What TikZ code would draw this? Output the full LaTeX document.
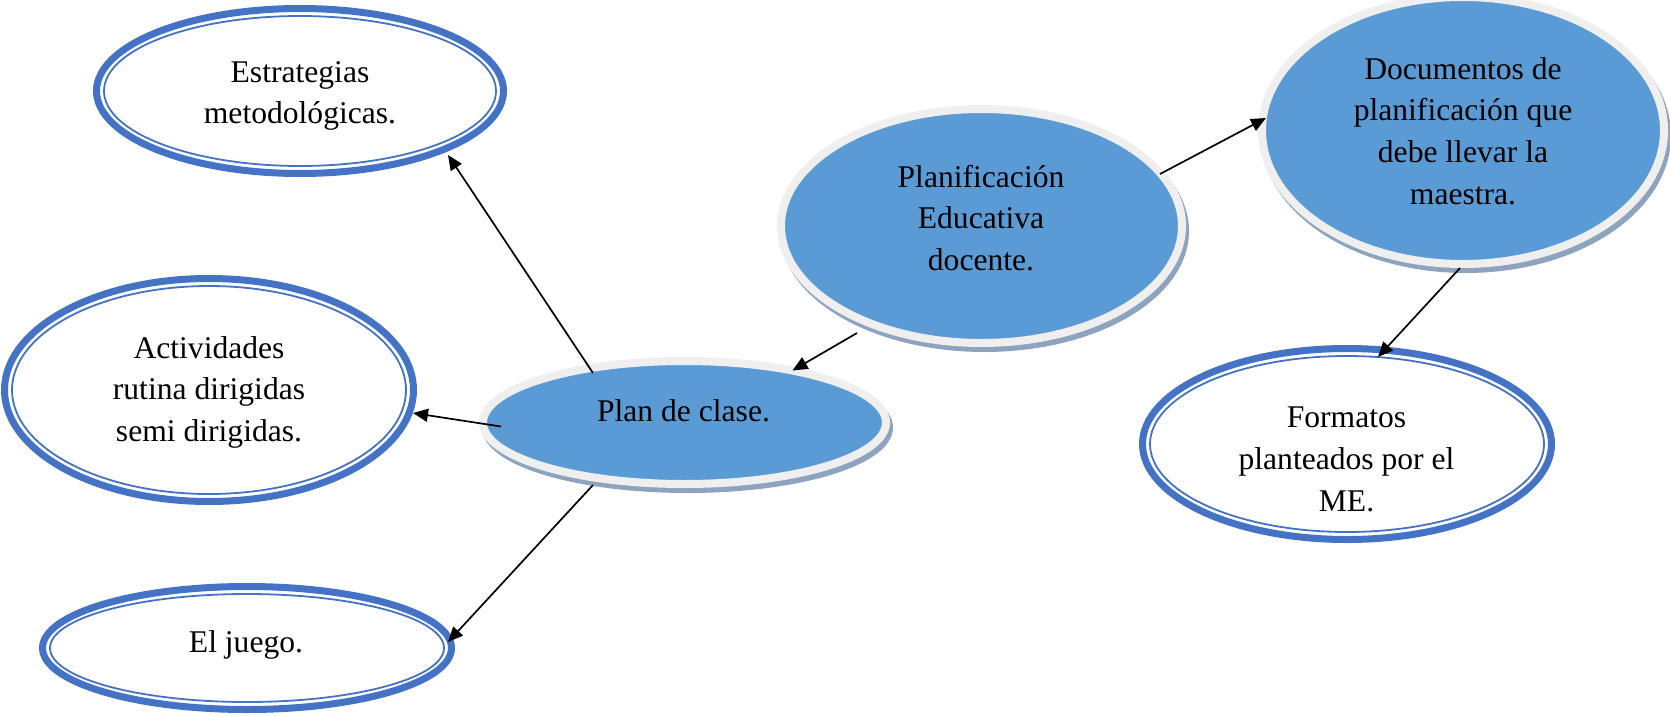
\documentclass[tikz,border=0pt]{standalone}
\usepackage{fontspec}
\setmainfont[Ligatures=NoCommon]{Liberation Serif}
\usetikzlibrary{shapes.geometric,arrows.meta,calc}
\definecolor{ringblue}{HTML}{4472C4}
\definecolor{fillblue}{HTML}{5B9BD5}
\definecolor{ringgray}{HTML}{EFEFEF}
\definecolor{shadowblue}{HTML}{8EA3BD}
\begin{document}
\begin{tikzpicture}[x=1pt,y=-1pt,
  whiteell/.style={ellipse, draw=ringblue, line width=7pt, fill=white, inner sep=0pt},
  innerring/.style={draw=ringblue, line width=1.8pt},
  blueell/.style={ellipse, draw=ringgray, line width=8pt, fill=fillblue, inner sep=0pt,
    preaction={draw=shadowblue, fill=shadowblue, line width=8pt,
      transform canvas={shift={(3pt,-5pt)}}}},
  txt/.style={align=center, font=\fontsize{31.6}{41.7}\selectfont, inner sep=0pt, text=black},
  conn/.style={-{Triangle[length=15pt,width=13pt]}, line width=1.7pt, draw=black}]
\useasboundingbox (0,0) rectangle (1670,715);

% white (double-ring) ellipses
\node[whiteell, minimum width=407pt, minimum height=165pt] (estr) at (300,91) {};
\draw[innerring] (estr.center) ellipse [x radius=196, y radius=75];
\node[whiteell, minimum width=409pt, minimum height=223pt] (activ) at (209,390) {};
\draw[innerring] (activ.center) ellipse [x radius=197, y radius=104];
\node[whiteell, minimum width=409pt, minimum height=123pt] (juego) at (247,648) {};
\draw[innerring] (juego.center) ellipse [x radius=197, y radius=54];
\node[whiteell, minimum width=409pt, minimum height=191pt] (form) at (1347,444) {};
\draw[innerring] (form.center) ellipse [x radius=197, y radius=88];

% blue ellipses
\node[blueell, minimum width=403pt, minimum height=123pt] (plan) at (684.5,422.5) {};
\node[blueell, minimum width=401pt, minimum height=234pt] (planif) at (981.5,226) {};
\node[blueell, minimum width=402pt, minimum height=267pt] (doc) at (1463,130.5) {};

% texts
\node[txt] (estr-t) at (300,95.9) {Estrategias\\metodológicas.};
\node[txt] (activ-t) at (209,392.4) {Actividades\\rutina dirigidas\\semi dirigidas.};
\node[txt] (juego-t) at (246,644.6) {El juego.};
\node[txt] (form-t) at (1346.5,459.4) {Formatos\\planteados por el\\ME.};
\node[txt] (plan-t) at (683.5,410.4) {Plan de clase.};
\node[txt] (planif-t) at (981,218) {Planificación\\Educativa\\docente.};
\node[txt] (doc-t) at (1463,130.9) {Documentos de\\planificación que\\debe llevar la\\maestra.};

% connectors
\draw[conn] ($(plan.center)+(-91.5,-49.5)$) -- ($(estr.center)+(148,64)$);
\draw[conn] ($(plan.center)+(-183.5,4)$) -- ($(activ.center)+(204,23)$);
\draw[conn] ($(plan.center)+(-91.5,62.5)$) -- ($(juego.center)+(201,-6)$);
\draw[conn] ($(planif.center)+(-124.5,107)$) -- ($(plan.center)+(108,-52)$);
\draw[conn] ($(planif.center)+(178.5,-52)$) -- ($(doc.center)+(-197,-12.5)$);
\draw[conn] ($(doc.center)+(-3,137.5)$) -- ($(form.center)+(31,-87)$);
\end{tikzpicture}
\end{document}
